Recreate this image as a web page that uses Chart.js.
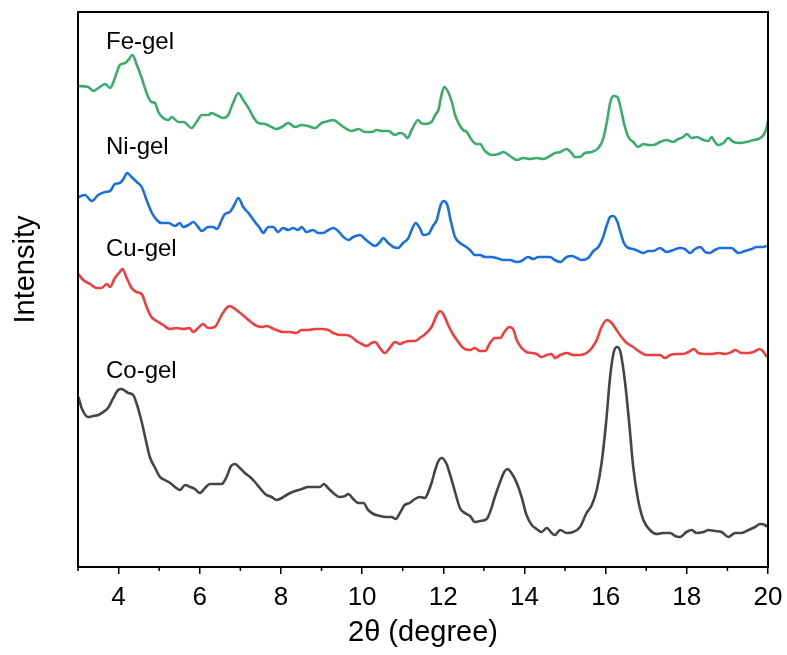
<!DOCTYPE html>
<html>
<head>
<meta charset="utf-8">
<title>XRD of metal gels</title>
<script src="https://cdn.jsdelivr.net/npm/chart.js@4.4.1/dist/chart.umd.min.js"></script>
<style>
  html, body { margin: 0; padding: 0; background: #fff; }
  #wrap { width: 787px; height: 655px; position: relative; }
</style>
</head>
<body>
<div id="wrap"><canvas id="xrdChart"></canvas></div>
<script>
// 2θ (degree) / intensity (a.u., curves already offset)
const feTheta = [3.01,3.25,3.38,3.50,3.67,3.79,3.91,4.03,4.16,4.24,4.34,4.45,4.57,4.69,4.81,4.90,4.98,5.10,5.23,5.31,5.47,5.60,5.80,5.92,6.05,6.21,6.29,6.46,6.58,6.70,6.83,6.95,7.07,7.20,7.32,7.44,7.61,7.77,7.89,8.02,8.18,8.35,8.51,8.67,8.84,9.00,9.17,9.29,9.41,9.58,9.74,9.91,10.07,10.24,10.36,10.48,10.65,10.81,10.93,11.02,11.12,11.22,11.38,11.45,11.55,11.71,11.80,11.88,11.94,12.02,12.12,12.21,12.29,12.40,12.49,12.58,12.70,12.82,12.90,13.03,13.19,13.36,13.48,13.64,13.81,13.97,14.14,14.30,14.46,14.63,14.75,14.88,15.04,15.16,15.24,15.37,15.49,15.66,15.82,15.93,16.03,16.11,16.19,16.29,16.37,16.45,16.56,16.68,16.80,16.93,17.05,17.17,17.34,17.50,17.67,17.79,17.91,18.00,18.12,18.24,18.41,18.53,18.61,18.69,18.78,18.90,19.02,19.15,19.31,19.47,19.64,19.76,19.89,19.97,20.00];
const feCounts = [481,480,476,479,483,479,489,502,504,507,512,502,489,474,465,464,455,449,447,450,445,445,439,445,452,452,454,451,449,452,465,474,467,459,450,444,443,440,438,440,444,440,442,441,439,444,446,447,444,439,436,438,435,435,437,436,436,432,434,433,429,437,447,444,443,445,452,457,469,480,475,465,452,442,437,435,427,423,423,416,412,413,415,411,407,409,408,409,408,411,414,415,418,414,410,410,414,415,419,427,445,464,471,470,459,444,430,425,420,423,422,422,425,427,425,428,430,433,429,430,427,426,430,425,422,424,429,425,424,425,427,428,432,440,446];

const niTheta = [3.01,3.17,3.34,3.50,3.67,3.79,3.91,4.03,4.12,4.21,4.32,4.45,4.57,4.69,4.81,4.94,5.06,5.23,5.39,5.51,5.59,5.72,5.84,5.96,6.05,6.21,6.33,6.42,6.54,6.62,6.74,6.85,6.95,7.07,7.20,7.36,7.48,7.56,7.69,7.81,7.93,8.05,8.18,8.30,8.42,8.51,8.63,8.79,8.92,9.04,9.17,9.29,9.41,9.54,9.66,9.78,9.95,10.07,10.19,10.32,10.44,10.52,10.64,10.77,10.89,11.01,11.14,11.22,11.32,11.42,11.51,11.63,11.76,11.84,11.92,12.00,12.10,12.18,12.29,12.41,12.53,12.66,12.78,12.90,13.03,13.19,13.31,13.48,13.64,13.81,13.93,14.09,14.22,14.34,14.51,14.63,14.75,14.88,15.04,15.16,15.29,15.41,15.57,15.70,15.82,15.93,16.03,16.11,16.19,16.29,16.37,16.45,16.56,16.68,16.80,16.93,17.05,17.17,17.34,17.50,17.67,17.83,17.95,18.08,18.20,18.33,18.45,18.57,18.69,18.82,18.98,19.10,19.27,19.43,19.60,19.72,19.84,19.97];
const niCounts = [370,372,366,372,375,376,383,384,388,394,390,385,380,367,355,347,344,344,341,344,340,342,345,340,336,340,340,338,347,353,355,362,369,360,354,345,339,334,340,340,335,339,337,339,337,340,335,337,334,334,337,339,336,330,327,330,332,328,324,321,325,329,324,320,319,324,329,337,344,339,332,333,342,347,360,366,362,347,330,324,321,317,312,312,310,310,309,307,307,305,306,310,308,310,310,310,307,305,310,311,309,307,309,316,320,329,342,350,351,345,334,324,319,318,316,314,316,316,319,315,317,319,318,314,318,320,315,314,317,319,319,319,314,316,318,320,320,321];

const cuTheta = [3.01,3.13,3.30,3.46,3.58,3.71,3.79,3.91,4.03,4.10,4.19,4.32,4.44,4.57,4.69,4.81,4.98,5.10,5.26,5.43,5.59,5.75,5.84,5.96,6.08,6.21,6.37,6.54,6.66,6.74,6.87,7.03,7.20,7.36,7.52,7.65,7.77,7.89,8.05,8.22,8.38,8.51,8.67,8.84,9.00,9.17,9.29,9.45,9.62,9.74,9.86,9.99,10.11,10.23,10.32,10.44,10.56,10.68,10.81,10.93,11.05,11.17,11.30,11.42,11.53,11.71,11.84,11.92,12.00,12.12,12.25,12.37,12.49,12.66,12.78,12.90,13.03,13.15,13.27,13.40,13.52,13.63,13.73,13.81,13.93,14.05,14.18,14.30,14.42,14.55,14.67,14.75,14.88,15.04,15.20,15.37,15.53,15.66,15.78,15.90,16.03,16.15,16.27,16.39,16.52,16.68,16.85,17.01,17.17,17.34,17.46,17.59,17.75,17.91,18.04,18.18,18.28,18.45,18.61,18.78,18.94,19.10,19.19,19.35,19.52,19.64,19.80,19.89,19.97];
const cuCounts = [293,287,283,279,279,283,280,289,295,298,290,279,275,273,260,250,245,242,238,239,238,239,235,239,243,239,240,252,259,261,258,253,247,242,240,241,239,237,235,235,234,237,237,238,238,237,234,232,232,230,226,223,221,224,225,219,214,219,225,223,225,226,226,229,232,240,252,256,253,242,232,225,219,217,219,216,216,224,229,229,236,240,237,227,219,215,214,213,210,212,213,209,212,214,212,212,214,219,227,240,247,244,237,230,224,220,215,212,212,212,209,212,213,213,215,218,214,213,213,214,213,215,217,214,214,215,218,215,210];

const coTheta = [3.01,3.09,3.25,3.37,3.50,3.62,3.74,3.87,3.99,4.07,4.24,4.36,4.44,4.57,4.67,4.77,4.90,5.02,5.14,5.27,5.39,5.51,5.64,5.76,5.88,6.00,6.13,6.25,6.41,6.54,6.66,6.77,6.87,6.99,7.11,7.24,7.36,7.48,7.61,7.77,7.89,8.02,8.18,8.35,8.51,8.67,8.84,8.96,9.06,9.16,9.29,9.45,9.58,9.66,9.78,9.91,10.03,10.15,10.28,10.44,10.60,10.73,10.83,10.93,11.05,11.17,11.30,11.42,11.55,11.63,11.71,11.80,11.88,11.96,12.07,12.17,12.29,12.41,12.53,12.66,12.78,12.90,13.07,13.17,13.27,13.40,13.50,13.58,13.68,13.81,13.93,14.05,14.18,14.30,14.42,14.55,14.67,14.75,14.88,15.04,15.20,15.37,15.53,15.66,15.78,15.90,16.01,16.11,16.20,16.29,16.37,16.48,16.58,16.68,16.80,16.93,17.09,17.26,17.42,17.59,17.71,17.83,17.99,18.12,18.24,18.41,18.53,18.69,18.86,19.02,19.19,19.35,19.52,19.68,19.80,19.93,19.97];
const coCounts = [170,159,150,151,152,155,159,169,177,178,174,172,164,145,127,110,99,90,87,84,80,77,82,80,78,74,79,83,83,83,90,101,103,99,94,90,85,79,73,70,67,69,73,76,78,80,80,80,83,79,74,70,71,73,68,64,64,57,53,51,50,50,48,54,62,64,68,70,69,75,84,97,106,109,104,92,75,59,54,51,45,46,48,57,70,85,95,98,94,84,70,52,42,38,35,39,34,32,37,34,35,40,54,62,77,104,144,190,215,220,214,184,144,100,67,47,37,33,34,34,31,30,35,37,34,35,37,36,35,30,34,34,37,40,43,42,40];

const sampleNames = ['Fe-gel', 'Ni-gel', 'Cu-gel', 'Co-gel'];
const xTicks = [4, 6, 8, 10, 12, 14, 16, 18, 20];

// where the sample names sit (data units: left edge, baseline)
const nameX = 3.69;
const nameY = [518, 413, 311, 189];

const FONT = '"Liberation Sans", Arial, sans-serif';

function toPoints(xs, ys) {
    return xs.map((t, i) => ({ x: t, y: ys[i] }));
}

function lineSet(label, xs, ys, color) {
    return {
        label: label,
        data: toPoints(xs, ys),
        borderColor: color,
        borderWidth: 2.6,
        pointRadius: 0,
        cubicInterpolationMode: 'monotone',
        fill: false
    };
}

// frame, minor ticks, sample names, y title
const decorPlugin = {
    id: 'decor',
    afterDraw(chart) {
        const { ctx, chartArea: a, scales: { x, y } } = chart;
        ctx.save();
        ctx.strokeStyle = '#000';
        ctx.lineWidth = 2;
        ctx.strokeRect(a.left, a.top, a.right - a.left, a.bottom - a.top);

        ctx.lineWidth = 1.5;
        for (let v = 3; v < 20; v += 2) {
            const px = x.getPixelForValue(v);
            ctx.beginPath();
            ctx.moveTo(px, a.bottom);
            ctx.lineTo(px, a.bottom + 4);
            ctx.stroke();
        }

        ctx.fillStyle = '#000';
        ctx.font = '24px ' + FONT;
        ctx.textAlign = 'left';
        ctx.textBaseline = 'alphabetic';
        sampleNames.forEach((name, i) => {
            ctx.fillText(name, x.getPixelForValue(nameX), y.getPixelForValue(nameY[i]));
        });

        ctx.font = '29px ' + FONT;
        ctx.translate(26, (a.top + a.bottom) / 2 - 20);
        ctx.rotate(-Math.PI / 2);
        ctx.textAlign = 'center';
        ctx.textBaseline = 'middle';
        ctx.fillText('Intensity', 0, 0);
        ctx.restore();
    }
};

new Chart(document.getElementById('xrdChart'), {
    type: 'line',
    data: {
        datasets: [
            lineSet(sampleNames[0], feTheta, feCounts, '#3aac6c'),
            lineSet(sampleNames[1], niTheta, niCounts, '#1c6fe0'),
            lineSet(sampleNames[2], cuTheta, cuCounts, '#f03e3e'),
            lineSet(sampleNames[3], coTheta, coCounts, '#454545')
        ]
    },
    options: {
        responsive: true,
        maintainAspectRatio: false,
        animation: false,
        layout: { padding: { top: 12, right: 19, left: 0, bottom: 0 } },
        plugins: {
            legend: { display: false },
            tooltip: { enabled: false }
        },
        scales: {
            x: {
                type: 'linear',
                min: 3,
                max: 20,
                afterBuildTicks: s => { s.ticks = xTicks.map(v => ({ value: v })); },
                afterFit: s => {
                    s.height = 88;
                    s.paddingLeft = 0;
                    s.paddingRight = 0;
                },
                ticks: {
                    color: '#000',
                    font: { family: FONT, size: 26 },
                    padding: 8,
                    maxRotation: 0,
                    autoSkip: false
                },
                grid: {
                    drawOnChartArea: false,
                    drawTicks: true,
                    tickLength: 7,
                    color: '#000',
                    lineWidth: 1.5
                },
                border: { display: false },
                title: {
                    display: true,
                    text: '2θ (degree)',
                    color: '#000',
                    font: { family: FONT, size: 29 },
                    padding: { top: 0, bottom: 5 }
                }
            },
            y: {
                min: 0,
                max: 555,
                afterFit: s => { s.width = 78; },
                ticks: { display: false },
                grid: { display: false },
                border: { display: false }
            }
        }
    },
    plugins: [decorPlugin]
});
</script>
</body>
</html>
